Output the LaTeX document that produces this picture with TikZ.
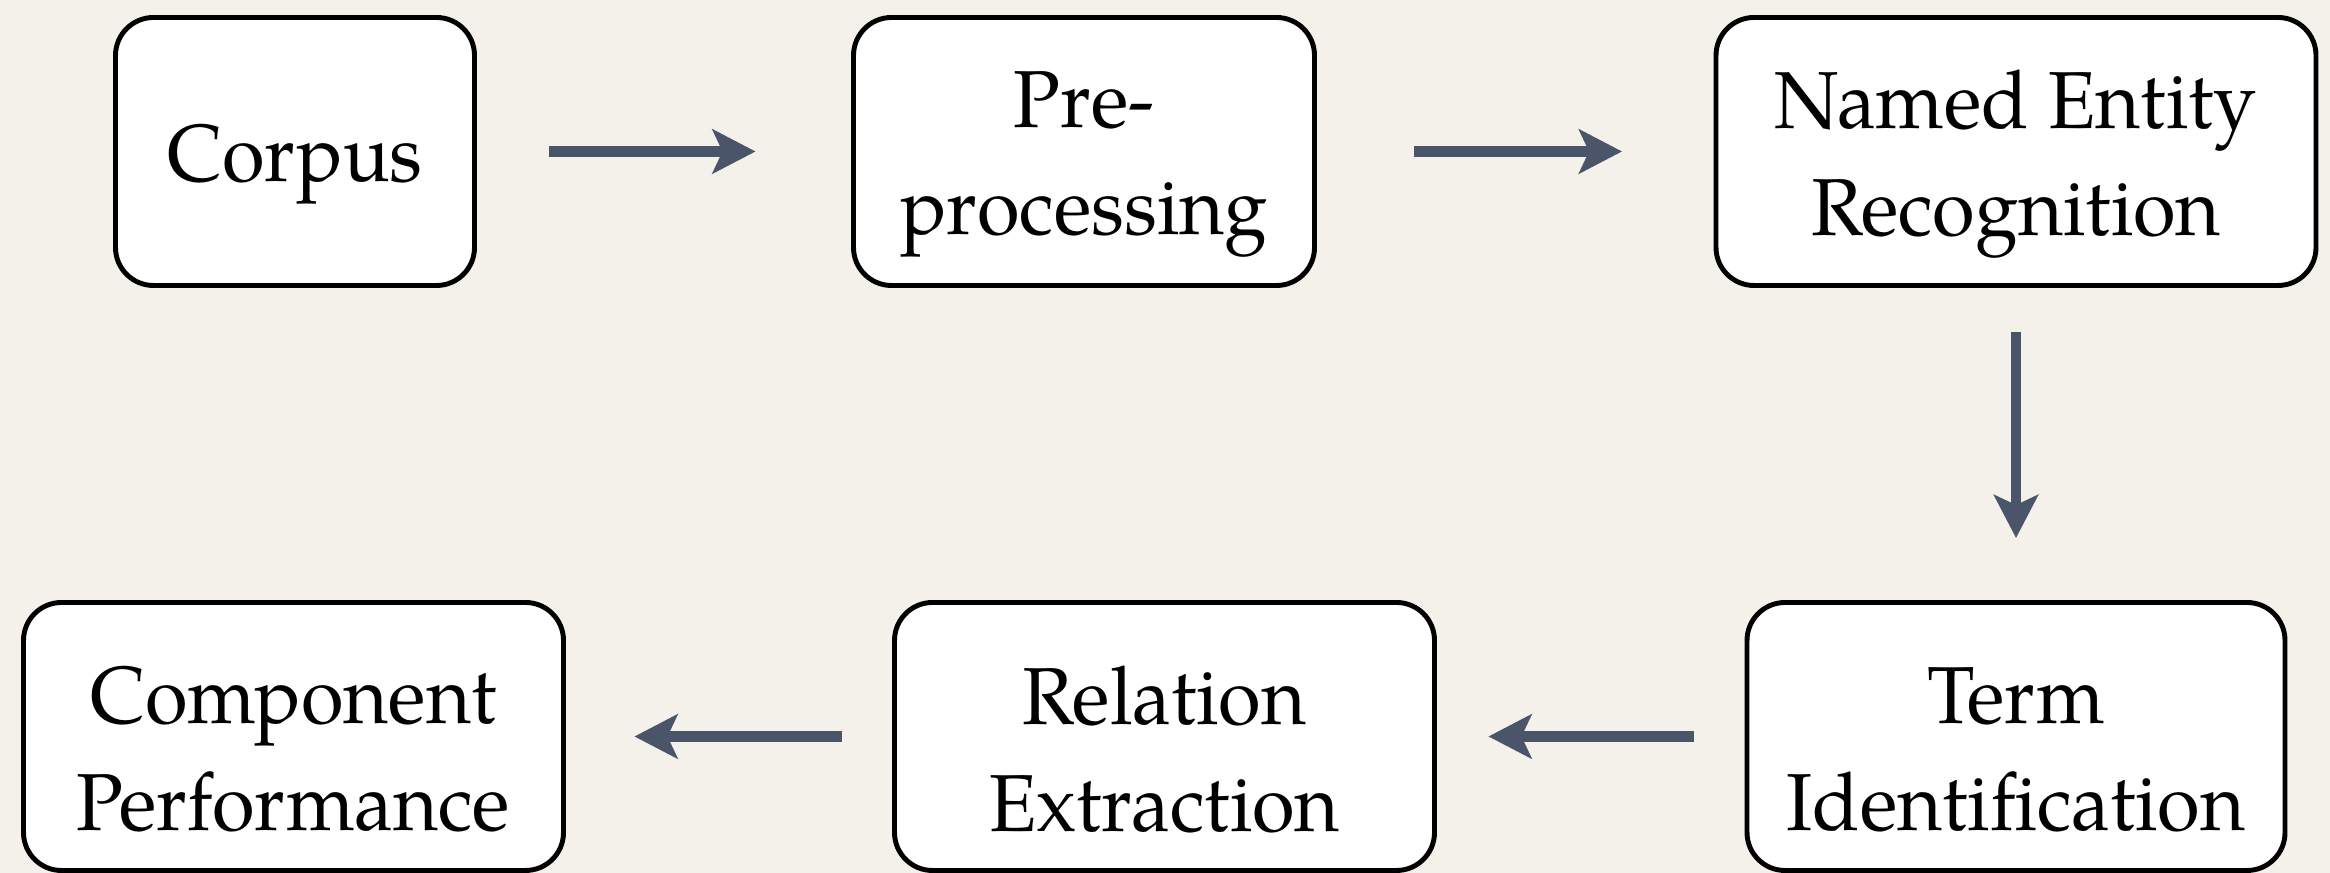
\documentclass[tikz,border=0pt]{standalone}
\usepackage{fontspec}
\setmainfont{TeX Gyre Pagella}[FakeStretch=0.96]
\usetikzlibrary{arrows.meta}
\definecolor{paper}{RGB}{244,241,235}
\definecolor{flowarrow}{RGB}{74,85,105}
\tikzset{
  stage/.style={draw=black, fill=white, line width=1.4pt, rounded corners=0.38cm,
    minimum height=2.68cm, inner sep=0pt},
  stagetext/.style={inner sep=0pt, align=center,
    font=\fontsize{23}{30.4}\selectfont},
  flow/.style={draw=flowarrow, line width=3.1pt,
    -{Stealth[length=4.3mm, width=4.4mm, inset=1mm, fill=flowarrow]}},
}
% text sits a little below the middle of each box
\newcommand{\stagelabel}[2]{%
  \node[stagetext] (#1-text) at ([yshift=-1.3mm]#1.center) {#2};}
\begin{document}
\begin{tikzpicture}
  \fill[paper] (0,0) rectangle (23.30,8.73);
  \useasboundingbox (0,0) rectangle (23.30,8.73);

  % top row
  \node[stage, minimum width=3.59cm] (corpus) at (2.95,7.215) {};
  \node[stage, minimum width=4.61cm] (prep) at (10.84,7.215) {};
  \node[stage, minimum width=6.00cm] (ner) at (20.16,7.215) {};

  % bottom row
  \node[stage, minimum width=5.38cm] (term) at (20.16,1.365) {};
  \node[stage, minimum width=5.40cm] (rel) at (11.645,1.365) {};
  \node[stage, minimum width=5.40cm] (comp) at (2.935,1.365) {};

  \stagelabel{corpus}{Corpus}
  \stagelabel{prep}{Pre-\\processing}
  \stagelabel{ner}{Named Entity\\Recognition}
  \stagelabel{term}{Term\\Identification}
  \stagelabel{rel}{Relation\\Extraction}
  \stagelabel{comp}{Component\\Performance}

  % pipeline arrows
  \draw[flow, shorten <=0.725cm, shorten >=0.955cm] (corpus.east) -- (prep.west);
  \draw[flow, shorten <=0.975cm, shorten >=0.915cm] (prep.east) -- (ner.west);
  \draw[flow, shorten <=0.445cm, shorten >=0.62cm] (ner.south) -- (term.north);
  \draw[flow, shorten <=0.505cm, shorten >=0.515cm] (term.west) -- (rel.east);
  \draw[flow, shorten <=0.505cm, shorten >=0.685cm] (rel.west) -- (comp.east);
\end{tikzpicture}
\end{document}
